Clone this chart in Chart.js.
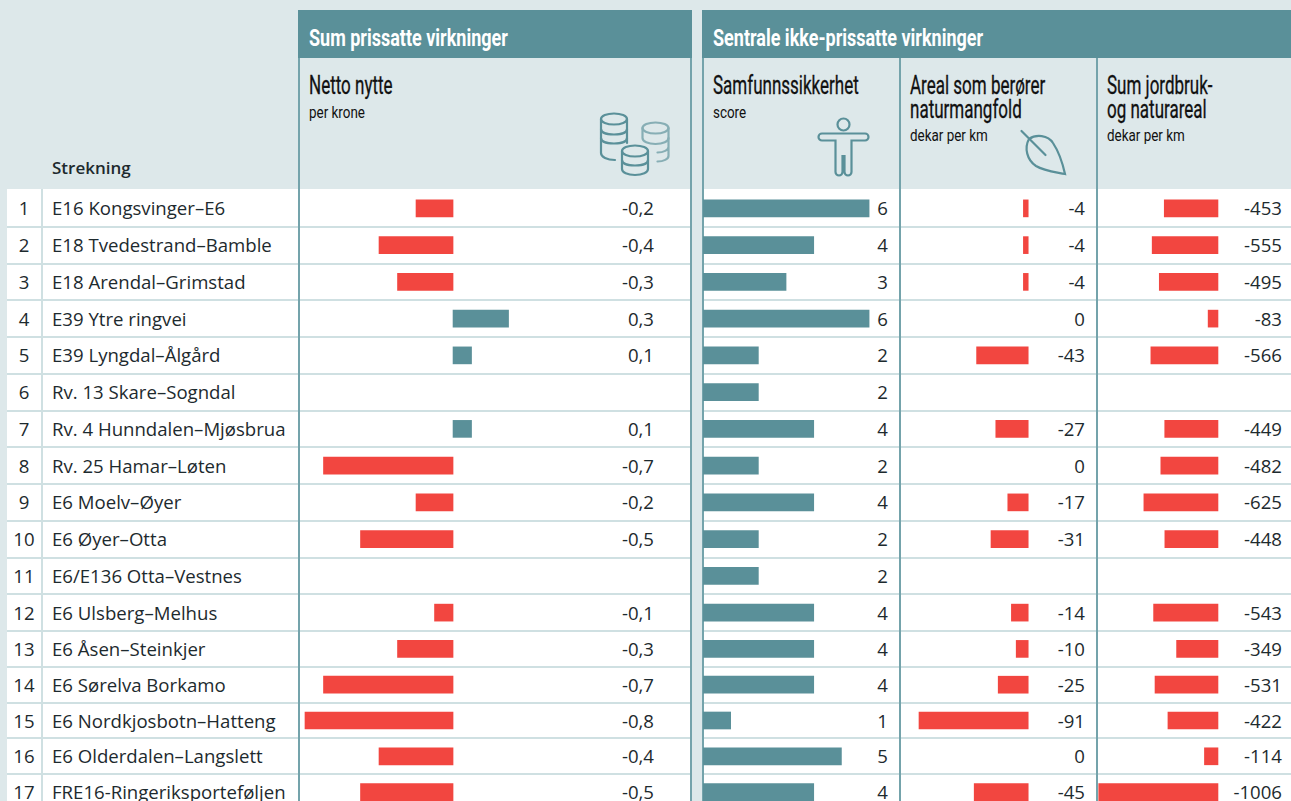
<!DOCTYPE html>
<html lang="no">
<head>
<meta charset="utf-8">
<title>Strekninger</title>
<script src="https://cdn.jsdelivr.net/npm/chart.js@4/dist/chart.umd.js"></script>
<style>
  html, body { margin: 0; padding: 0; }
  body { width: 1291px; height: 801px; overflow: hidden; background: #dde8ea; position: relative; font-family: "Open Sans", sans-serif; color: #1d2a2e; }
  .abs { position: absolute; white-space: nowrap; }
  .band { position: absolute; background: #5a9099; top: 10px; height: 48px; }
  .vline { position: absolute; width: 2px; background: #74a3ab; top: 58px; height: 743px; }
  .head { font-family: "Liberation Sans Narrow", "Roboto", sans-serif; transform-origin: left top; }
  .band-title { color: #fff; font-size: 24px; font-weight: bold; transform: scaleX(0.75); line-height: 28px; top: 24px; }
  .col-title { font-size: 25px; line-height: 24px; transform: scaleX(0.68); color: #111; -webkit-text-stroke: 0.3px #111; }
  .col-unit { font-size: 17px; line-height: 20px; transform: scaleX(0.79); color: #111; }
  #rows { position: absolute; left: 7px; top: 189px; width: 1284px; height: 612px; background: #fff; overflow: hidden; }
  #gap { position: absolute; left: 692px; top: 189px; width: 10.5px; height: 612px; background: #dde8ea; }
  .rowline { position: absolute; left: 0; width: 1284px; height: 2px; background: #cfe0e2; }
  .cell { position: absolute; white-space: nowrap; font-size: 18.6px; line-height: 24px; }
  canvas { position: absolute; }
</style>
</head>
<body>
<div class="band" style="left:298px;width:394px"></div>
<div class="band" style="left:702px;width:589px"></div>
<div class="abs head band-title" style="left:309px">Sum prissatte virkninger</div>
<div class="abs head band-title" style="left:713px">Sentrale ikke-prissatte virkninger</div>

<div class="abs head col-title" style="left:309px;top:74px">Netto nytte</div>
<div class="abs head col-unit" style="left:309px;top:102px">per krone</div>
<div class="abs head col-title" style="left:713px;top:74px">Samfunnssikkerhet</div>
<div class="abs head col-unit" style="left:713px;top:102px">score</div>
<div class="abs head col-title" style="left:910px;top:74px">Areal som berører<br>naturmangfold</div>
<div class="abs head col-unit" style="left:910px;top:125px">dekar per km</div>
<div class="abs head col-title" style="left:1107px;top:74px">Sum jordbruk-<br>og naturareal</div>
<div class="abs head col-unit" style="left:1107px;top:125px">dekar per km</div>
<div class="abs" style="left:52px;top:156px;font-size:17px;font-weight:600;line-height:24px">Strekning</div>

<div id="rows"></div>
<div id="gap"></div>

<svg class="abs" style="left:0;top:0" width="1291" height="801" fill="none" stroke="#5a9099" stroke-width="2.2" stroke-linecap="round">
  <!-- pengestabler -->
  <g opacity="0.65">
    <ellipse cx="655.500" cy="128" rx="13" ry="5.500"/>
    <path d="M642.500 128v10c0 3.500 5.500 6 13 6s13-2.500 13-6v-10"/>
    <path d="M668.500 138v9c0 3-5 5.500-11 5.500M668.500 147v9c0 3-5 5.500-11 5.500"/>
  </g>
  <ellipse cx="614" cy="119" rx="13" ry="5.500"/>
  <path d="M601 119v10c0 3.500 5.500 5.500 13 5.500s13-2 13-5.500v-10"/>
  <path d="M601 129v9c0 3.500 5.500 5.500 13 5.500s13-2 13-5.500v-9"/>
  <path d="M601 138v15c0 4 6 7 14 7"/>
  <path d="M627 138v5"/>
  <ellipse cx="635" cy="151" rx="13" ry="5.500"/>
  <path d="M622 151v9c0 3.500 5.500 5.500 13 5.500s13-2 13-5.500v-9"/>
  <path d="M622 160v9c0 3.500 5.500 6 13 6s13-2.500 13-6v-9"/>
  <!-- person -->
  <circle cx="843.500" cy="124.500" r="6"/>
  <path d="M835.500 140.500H822a3.500 3.500 0 0 1 0-7H865a3.500 3.500 0 0 1 0 7H851.500V172a3.500 3.500 0 0 1-7 0V156h-2V172a3.500 3.500 0 0 1-7 0Z"/>
  <!-- blad -->
  <path d="M1021.500 131L1045.500 155"/>
  <path d="M1029 139C1036 134 1048 135 1053 143C1059 152 1063 165 1065 174C1055 172 1044 171 1036 166C1027 160 1024 148 1029 139Z"/>
</svg>

<div class="vline" style="left:298px"></div>
<div class="vline" style="left:690px"></div>
<div class="vline" style="left:702px"></div>
<div class="vline" style="left:899px"></div>
<div class="vline" style="left:1096px"></div>

<script>
// Verdier lest av figuren
const road_names = [
  "E16 Kongsvinger–E6", "E18 Tvedestrand–Bamble", "E18 Arendal–Grimstad", "E39 Ytre ringvei",
  "E39 Lyngdal–Ålgård", "Rv. 13 Skare–Sogndal", "Rv. 4 Hunndalen–Mjøsbrua", "Rv. 25 Hamar–Løten",
  "E6 Moelv–Øyer", "E6 Øyer–Otta", "E6/E136 Otta–Vestnes", "E6 Ulsberg–Melhus",
  "E6 Åsen–Steinkjer", "E6 Sørelva Borkamo", "E6 Nordkjosbotn–Hatteng", "E6 Olderdalen–Langslett",
  "FRE16-Ringeriksporteføljen"
];
const netto_nytte = [-0.2, -0.4, -0.3, 0.3, 0.1, null, 0.1, -0.7, -0.2, -0.5, null, -0.1, -0.3, -0.7, -0.8, -0.4, -0.5];
const samfunnssikkerhet = [6, 4, 3, 6, 2, 2, 4, 2, 4, 2, 2, 4, 4, 4, 1, 5, 4];
const areal_naturmangfold = [-4, -4, -4, 0, -43, null, -27, 0, -17, -31, null, -14, -10, -25, -91, 0, -45];
const jordbruk_naturareal = [-453, -555, -495, -83, -566, null, -449, -482, -625, -448, null, -543, -349, -531, -422, -114, -1006];

const TEAL = '#5a9099';
const RED = '#f24640';

// x-range is set per column so that the bars line up with the table columns
const columns = [
  { values: netto_nytte, left: 299.5, width: 391, min: -0.827, max: 1.286, labelRight: 654, decimals: 1 },
  { values: samfunnssikkerhet, left: 703, width: 196, min: 0, max: 7.08, labelRight: 888, decimals: 0 },
  { values: areal_naturmangfold, left: 901, width: 195, min: -106, max: 56.5, labelRight: 1085, decimals: 0 },
  { values: jordbruk_naturareal, left: 1098, width: 193, min: -1012, max: 616, labelRight: 1282, decimals: 0 }
];

// The table is slightly tighter from row 13, so it has two blocks
const blocks = [
  { first: 0, last: 12, top: 190, rowHeight: 36.75 },
  { first: 12, last: 17, top: 631, rowHeight: 35.8 }
];

function format_value(value, decimals) {
  return value.toFixed(decimals).replace('.', ',');
}

function add_cell(parent, text, style) {
  const cell = document.createElement('div');
  cell.className = 'cell';
  cell.textContent = text;
  Object.assign(cell.style, style);
  parent.appendChild(cell);
}

function draw_table() {
  const rows = document.getElementById('rows');
  const body_left = 7, body_top = 189;

  // divider between number and name
  const divider = document.createElement('div');
  divider.className = 'rowline';
  Object.assign(divider.style, { left: (41 - body_left) + 'px', top: 0, width: '2px', height: '612px' });
  rows.appendChild(divider);

  blocks.forEach(block => {
    for (let i = block.first; i < block.last; i++) {
      const top = block.top + (i - block.first) * block.rowHeight - body_top;
      const text_top = Math.round(top + block.rowHeight / 2 - 12);

      if (i > 0) {
        const line = document.createElement('div');
        line.className = 'rowline';
        line.style.top = Math.round(top - 1) + 'px';
        rows.appendChild(line);
      }

      add_cell(rows, String(i + 1), { left: '0', width: '34px', textAlign: 'center', top: text_top + 'px' });
      add_cell(rows, road_names[i], { left: (52 - body_left) + 'px', top: text_top + 'px' });

      columns.forEach(col => {
        if (col.values[i] === null) return;
        add_cell(rows, format_value(col.values[i], col.decimals), {
          right: (1291 - col.labelRight) + 'px',
          top: text_top + 'px'
        });
      });
    }
  });
}

function draw_bars(col, block) {
  const canvas = document.createElement('canvas');
  const height = (block.last - block.first) * block.rowHeight;
  canvas.width = col.width;
  canvas.height = Math.round(height);
  canvas.style.left = col.left + 'px';
  canvas.style.top = (block.top - 0.5) + 'px';
  document.body.appendChild(canvas);

  new Chart(canvas.getContext('2d'), {
    type: 'bar',
    data: {
      labels: road_names.slice(block.first, block.last),
      datasets: [{
        data: col.values.slice(block.first, block.last),
        backgroundColor: c => (c.raw > 0 ? TEAL : (c.raw < 0 ? RED : 'transparent')),
        barThickness: 17,
        borderWidth: 0
      }]
    },
    options: {
      indexAxis: 'y',
      responsive: false,
      animation: false,
      layout: { padding: 0 },
      plugins: { legend: { display: false }, tooltip: { enabled: false } },
      scales: {
        x: { type: 'linear', display: false, min: col.min, max: col.max },
        y: { type: 'category', display: false }
      }
    }
  });
}

draw_table();
columns.forEach(col => blocks.forEach(block => draw_bars(col, block)));
</script>
</body>
</html>
